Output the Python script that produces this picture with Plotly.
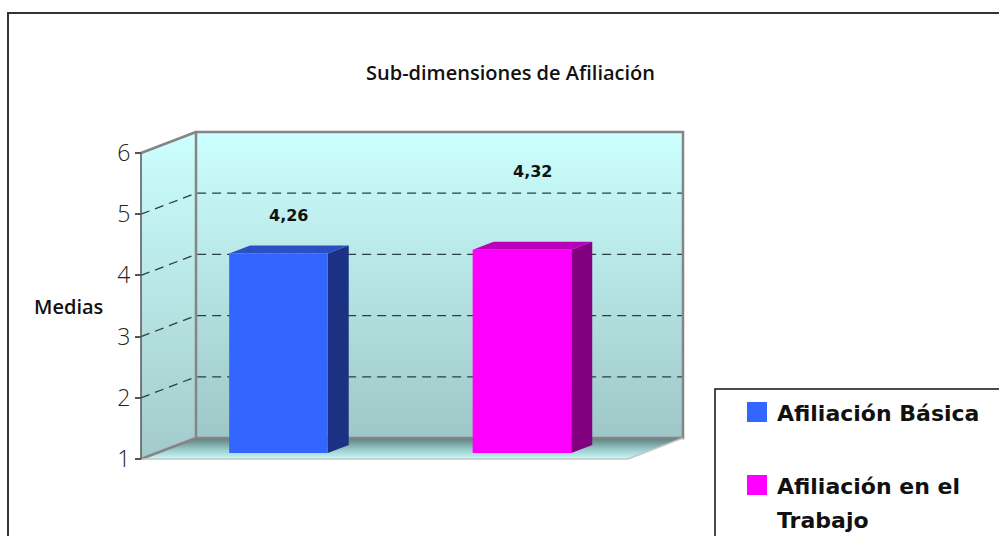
import plotly.graph_objects as go

# ---------------- data ----------------
categories = ["Afiliación Básica", "Afiliación en el Trabajo"]
legend_lines = [["Afiliación Básica"], ["Afiliación en el", "Trabajo"]]
values = [4.26, 4.32]
y_ticks = [1, 2, 3, 4, 5, 6]
title_text = "Sub-dimensiones de Afiliación"
y_title = "Medias"

# ---------------- styling ----------------
front_colors = ["#3366FF", "#FF00FF"]
side_colors = ["#1B3282", "#800080"]
top_colors = ["#2A50C4", "#BB00BB"]
label_shift = [38, 78]          # label offsets (px) above bar top, as in the original

W, H = 999, 536
Y_MIN, Y_MAX = 1, 6
PX_PER_UNIT = 61.2
FRONT_BASE_PX = 459
X_LEFT_PX, X_RIGHT_PX = 141, 628
S = (X_RIGHT_PX - X_LEFT_PX) / 2.0          # px per category
X0 = X_LEFT_PX + 0.5 * S                     # px of category 0 centre (front plane)
DX = 55 / S                                  # depth vector in axis units
DY = 21 / PX_PER_UNIT
F1, F2 = 6 / 21, 14 / 21                     # bar front/back depth fraction
HALF_W = 0.2025

yr = [Y_MIN - (H - FRONT_BASE_PX) / PX_PER_UNIT, Y_MIN + FRONT_BASE_PX / PX_PER_UNIT]
xr = [-X0 / S, (W - X0) / S]

n = len(categories)
xl, xrgt = -0.5, n - 0.5

fig = go.Figure()

def poly(xs, ys, color=None, grad=None, line=None):
    kw = dict(x=xs + [xs[0]], y=ys + [ys[0]], mode="lines", fill="toself",
              hoverinfo="skip", showlegend=False,
              line=line or dict(width=0, color="rgba(0,0,0,0)"))
    if grad is not None:
        kw["fillgradient"] = dict(type="vertical", colorscale=grad)
    else:
        kw["fillcolor"] = color
    fig.add_trace(go.Scatter(**kw))

wall_grad = [[0, "#9FC7C7"], [1, "#CCFFFF"]]
# side wall
poly([xl, xl, xl + DX, xl + DX], [Y_MIN, Y_MAX, Y_MAX + DY, Y_MIN + DY], grad=[[0, "#A3CACA"], [1, "#CCFFFF"]])
# back wall
poly([xl + DX, xl + DX, xrgt + DX, xrgt + DX], [Y_MIN + DY, Y_MAX + DY, Y_MAX + DY, Y_MIN + DY], grad=wall_grad)
# floor
poly([xl, xrgt, xrgt + DX, xl + DX], [Y_MIN, Y_MIN, Y_MIN + DY, Y_MIN + DY],
     grad=[[0, "#C6FAFA"], [0.45, "#9CCACA"], [1, "#5A7E7E"]])

# dashed gridlines
gx, gy = [], []
for v in y_ticks[1:-1]:
    gx += [xl, xl + DX, xrgt + DX, None]
    gy += [v, v + DY, v + DY, None]
fig.add_trace(go.Scatter(x=gx, y=gy, mode="lines", hoverinfo="skip", showlegend=False,
                         line=dict(color="#2E3E3E", width=1.3, dash="9px,6px")))

# wall outlines
fig.add_trace(go.Scatter(x=[xl + DX, xl + DX, xrgt + DX, xrgt + DX, xl + DX],
                         y=[Y_MIN + DY, Y_MAX + DY, Y_MAX + DY, Y_MIN + DY, Y_MIN + DY],
                         mode="lines", hoverinfo="skip", showlegend=False,
                         line=dict(color="#858585", width=2.5)))
fig.add_trace(go.Scatter(x=[xl, xl + DX, None, xl, xl + DX], y=[Y_MAX, Y_MAX + DY, None, Y_MIN, Y_MIN + DY],
                         mode="lines", hoverinfo="skip", showlegend=False,
                         line=dict(color="#858585", width=2.5)))
fig.add_trace(go.Scatter(x=[xl, xrgt, xrgt + DX], y=[Y_MIN, Y_MIN, Y_MIN + DY],
                         mode="lines", hoverinfo="skip", showlegend=False,
                         line=dict(color="#C4C4C4", width=1.5)))
# front value axis line
fig.add_trace(go.Scatter(x=[xl, xl], y=[Y_MIN, Y_MAX], mode="lines", hoverinfo="skip",
                         showlegend=False, line=dict(color="#555555", width=1.5)))

# bars
for i, v in enumerate(values):
    a, b = i - HALF_W, i + HALF_W
    # top
    poly([a + F1 * DX, b + F1 * DX, b + F2 * DX, a + F2 * DX],
         [v + F1 * DY, v + F1 * DY, v + F2 * DY, v + F2 * DY], color=top_colors[i])
    # side
    poly([b + F1 * DX, b + F1 * DX, b + F2 * DX, b + F2 * DX],
         [Y_MIN + F1 * DY, v + F1 * DY, v + F2 * DY, Y_MIN + F2 * DY], color=side_colors[i])
    # front
    poly([a + F1 * DX, b + F1 * DX, b + F1 * DX, a + F1 * DX],
         [Y_MIN + F1 * DY, Y_MIN + F1 * DY, v + F1 * DY, v + F1 * DY], color=front_colors[i])
    fig.add_annotation(x=i + (F1 + F2) / 2 * DX, y=v + F1 * DY, yshift=label_shift[i],
                       xanchor="center", yanchor="middle",
                       text=f"<b>{v:.2f}</b>".replace(".", ","), showarrow=False,
                       font=dict(family="DejaVu Sans", size=16, color="#111111"))

# titles
fig.add_annotation(xref="paper", yref="paper", x=510 / W, y=1 - 73 / H, xanchor="center", yanchor="middle",
                   text=title_text, showarrow=False,
                   font=dict(family="Open Sans", size=20, color="#111111", weight=600))
fig.add_annotation(xref="paper", yref="paper", x=68 / W, y=1 - 306 / H, xanchor="center", yanchor="middle",
                   text=y_title, showarrow=False,
                   font=dict(family="Open Sans", size=20, color="#111111", weight=600))

# outer chart border
fig.add_shape(type="rect", xref="paper", yref="paper", x0=8 / W, x1=1.02, y0=-0.02, y1=1 - 13 / H,
              line=dict(color="#333333", width=2), layer="below")

# legend box (custom)
fig.add_shape(type="rect", xref="paper", yref="paper", x0=715 / W, x1=1.02, y0=-0.02, y1=1 - 389 / H,
              line=dict(color="#111111", width=1.5), fillcolor="white")
sq_top = [402, 475]
for i, lines in enumerate(legend_lines):
    fig.add_shape(type="rect", xref="paper", yref="paper", x0=747 / W, x1=767 / W,
                  y0=1 - (sq_top[i] + 20) / H, y1=1 - sq_top[i] / H,
                  fillcolor=front_colors[i], line=dict(width=0))
    for j, t in enumerate(lines):
        fig.add_annotation(xref="paper", yref="paper", x=775 / W, xanchor="left",
                           y=1 - (sq_top[i] + 11 + 34 * j) / H, yanchor="middle",
                           text=f"<b>{t}</b>", showarrow=False,
                           font=dict(family="DejaVu Sans", size=22, color="#111111"))

fig.update_layout(
    width=W, height=H, margin=dict(l=0, r=0, t=0, b=0),
    paper_bgcolor="white", plot_bgcolor="rgba(0,0,0,0)", showlegend=False,
    xaxis=dict(range=xr, visible=False, fixedrange=True),
    yaxis=dict(range=yr, anchor="free", position=X_LEFT_PX / W, side="left",
               tickvals=y_ticks, ticktext=[str(t) for t in y_ticks],
               ticks="outside", ticklen=6, tickwidth=1.5, tickcolor="#555555",
               showgrid=False, zeroline=False, showline=False,
               tickfont=dict(family="Open Sans", size=23, color="#222222", weight=300)),
)

fig.write_html("out.html")
